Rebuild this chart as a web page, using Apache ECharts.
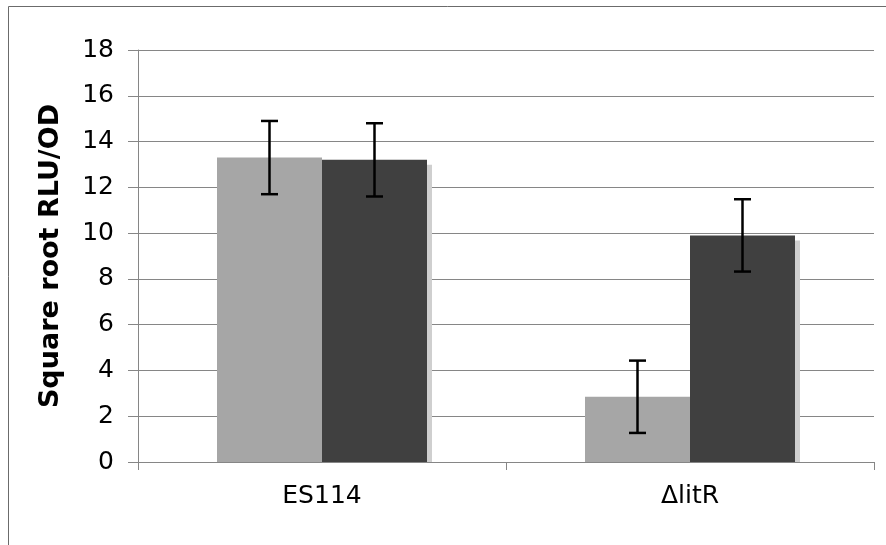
<!DOCTYPE html>
<html>
<head>
<meta charset="utf-8">
<script src="https://cdn.jsdelivr.net/npm/echarts@6/dist/echarts.min.js"></script>
<style>
  html, body { margin: 0; padding: 0; background: #fff; }
  #chart { width: 886px; height: 545px; }
</style>
</head>
<body>
<div id="chart"></div>
<script>
// Strains on the x axis
const categories = ['ES114', '\u0394litR'];
// Mean square-root luminescence per OD for the two conditions
const lightValues = [13.3, 2.85];
const darkValues = [13.2, 9.9];
// Error bar half-lengths (±)
const lightErrors = [1.6, 1.58];
const darkErrors = [1.6, 1.58];
// Y axis range
const yMin = 0, yMax = 18, yStep = 2;

const chart = echarts.init(document.getElementById('chart'), null, { renderer: 'canvas' });

const barWidth = 105;
const fontFamily = '"DejaVu Sans", Verdana, sans-serif';

// Error bars drawn in data space; offset by half a bar width either side of the category centre
function errorSeries(values, errors, side) {
  const data = values.map((v, i) => [i, v - errors[i], v + errors[i]]);
  return {
    type: 'custom',
    z: 10,
    renderItem: function (params, api) {
      const i = api.value(0);
      const lo = api.coord([i, api.value(1)]);
      const hi = api.coord([i, api.value(2)]);
      const x = lo[0] + side * barWidth / 2;
      const cap = 8.5;
      const style = { stroke: '#000', lineWidth: 2.5 };
      return {
        type: 'group',
        children: [
          { type: 'line', shape: { x1: x, y1: hi[1], x2: x, y2: lo[1] }, style: style },
          { type: 'line', shape: { x1: x - cap, y1: hi[1], x2: x + cap, y2: hi[1] }, style: style },
          { type: 'line', shape: { x1: x - cap, y1: lo[1], x2: x + cap, y2: lo[1] }, style: style }
        ]
      };
    },
    data: data,
    encode: { x: 0, y: [1, 2] }
  };
}

// Soft drop shadow behind each bar, offset down-right and stopping at the baseline
function shadowSeries(values, side) {
  const data = values.map((v, i) => [i, v]);
  return {
    type: 'custom',
    z: 1,
    renderItem: function (params, api) {
      const i = api.value(0);
      const top = api.coord([i, api.value(1)]);
      const base = api.coord([i, 0]);
      const off = 5;
      const x0 = top[0] + (side < 0 ? -barWidth : 0) + off;
      return {
        type: 'rect',
        shape: { x: x0, y: top[1] + off, width: barWidth, height: base[1] - top[1] - off },
        style: { fill: '#cfcfcf' }
      };
    },
    data: data,
    encode: { x: 0, y: 1 }
  };
}

chart.setOption({
  animation: false,
  backgroundColor: '#fff',
  graphic: [{
    type: 'rect',
    shape: { x: 8.5, y: 6.5, width: 1000, height: 1000 },
    style: { fill: 'none', stroke: '#6b6b6b', lineWidth: 1 },
    silent: true,
    z: -10
  }],
  grid: { left: 138, right: 12, top: 50, bottom: 83 },
  xAxis: {
    type: 'category',
    data: categories,
    axisLine: { lineStyle: { color: '#868686', width: 1 } },
    axisTick: { show: true, length: 8, lineStyle: { color: '#868686' } },
    axisLabel: { color: '#000', fontFamily: fontFamily, fontSize: 25, margin: 22 },
    splitLine: { show: false }
  },
  yAxis: {
    type: 'value',
    min: yMin,
    max: yMax,
    interval: yStep,
    name: 'Square root RLU/OD',
    nameLocation: 'middle',
    nameGap: 74,
    nameTextStyle: { color: '#000', fontFamily: fontFamily, fontSize: 27, fontWeight: 'bold' },
    axisLine: { show: true, lineStyle: { color: '#868686', width: 1 } },
    axisTick: { show: true, length: 10, lineStyle: { color: '#868686' } },
    axisLabel: { color: '#000', fontFamily: fontFamily, fontSize: 25, margin: 24 },
    splitLine: { show: true, lineStyle: { color: '#868686', width: 1 } }
  },
  series: [
    shadowSeries(lightValues, -1),
    shadowSeries(darkValues, 1),
    {
      type: 'bar',
      z: 2,
      data: lightValues,
      barWidth: barWidth,
      barGap: '0%',
      itemStyle: { color: '#a6a6a6' }
    },
    {
      type: 'bar',
      z: 2,
      data: darkValues,
      barWidth: barWidth,
      barGap: '0%',
      itemStyle: { color: '#404040' }
    },
    errorSeries(lightValues, lightErrors, -1),
    errorSeries(darkValues, darkErrors, 1)
  ]
});
</script>
</body>
</html>
